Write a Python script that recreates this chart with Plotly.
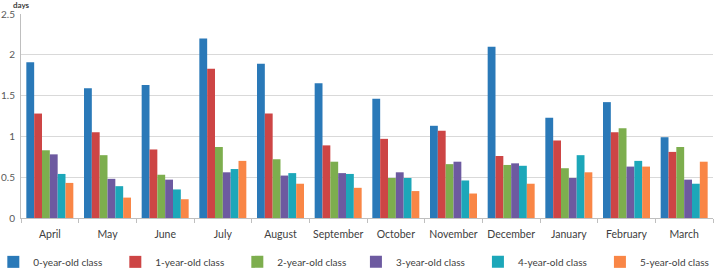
import plotly.graph_objects as go

months = ["April", "May", "June", "July", "August", "September", "October",
          "November", "December", "January", "February", "March"]
series_names = ["0-year-old class", "1-year-old class", "2-year-old class",
                "3-year-old class", "4-year-old class", "5-year-old class"]
age0 = [1.91, 1.59, 1.63, 2.20, 1.89, 1.65, 1.46, 1.13, 2.10, 1.23, 1.42, 0.99]
age1 = [1.28, 1.05, 0.84, 1.83, 1.28, 0.89, 0.97, 1.07, 0.76, 0.95, 1.05, 0.81]
age2 = [0.83, 0.77, 0.53, 0.87, 0.72, 0.69, 0.49, 0.66, 0.65, 0.61, 1.10, 0.87]
age3 = [0.78, 0.48, 0.47, 0.56, 0.52, 0.55, 0.56, 0.69, 0.67, 0.49, 0.63, 0.47]
age4 = [0.54, 0.39, 0.35, 0.60, 0.55, 0.54, 0.49, 0.46, 0.64, 0.77, 0.70, 0.42]
age5 = [0.43, 0.25, 0.23, 0.70, 0.42, 0.37, 0.33, 0.30, 0.42, 0.56, 0.63, 0.69]
colors = ["#2A79B8", "#CD4545", "#7DAE4E", "#6D5AA0", "#1CA7B9", "#F98646"]

fig = go.Figure()
for i, (name, vals, col) in enumerate(zip(series_names, [age0, age1, age2, age3, age4, age5], colors)):
    fig.add_trace(go.Bar(x=months, y=vals, name=name, marker_color=col,
                         marker_line_width=0,
                         legend="legend" if i < 3 else "legend2"))

legend_common = dict(orientation="h", xanchor="left", y=-0.215, yanchor="middle",
                     font=dict(size=10, color="#404040"), entrywidth=77,
                     itemwidth=30, tracegroupgap=0, bgcolor="rgba(0,0,0,0)")

fig.update_layout(
    width=715, height=271,
    margin=dict(l=21, r=2, t=14, b=53, autoexpand=False),
    paper_bgcolor="white", plot_bgcolor="white",
    barmode="group", bargap=0.185, bargroupgap=0,
    font=dict(family="Lato, Open Sans, sans-serif", color="#404040"),
    showlegend=True,
    legend=dict(x=-0.04, **legend_common),
    legend2=dict(x=0.484, **legend_common),
    xaxis=dict(showline=True, linecolor="#BFBFBF", linewidth=1, automargin=False,
               ticks="outside", tickson="boundaries", ticklen=4, tickcolor="#BFBFBF",
               ticklabelstandoff=6,
               tickangle=0, tickfont=dict(size=10.5, color="#404040"), showgrid=False),
    yaxis=dict(range=[0, 2.5], dtick=0.5, showgrid=True, gridcolor="#D9D9D9",
               showline=True, linecolor="#BFBFBF", linewidth=1, zeroline=False,
               automargin=False,
               tickfont=dict(size=10, color="#595959"), ticks="", ticklabelstandoff=3),
    annotations=[dict(text="<b>days</b>", x=0.0, y=1.0, xref="paper", yref="paper",
                      xanchor="center", yanchor="bottom", yshift=2, showarrow=False,
                      font=dict(size=8, color="#404040"))],
)

fig.write_html("out.html")
